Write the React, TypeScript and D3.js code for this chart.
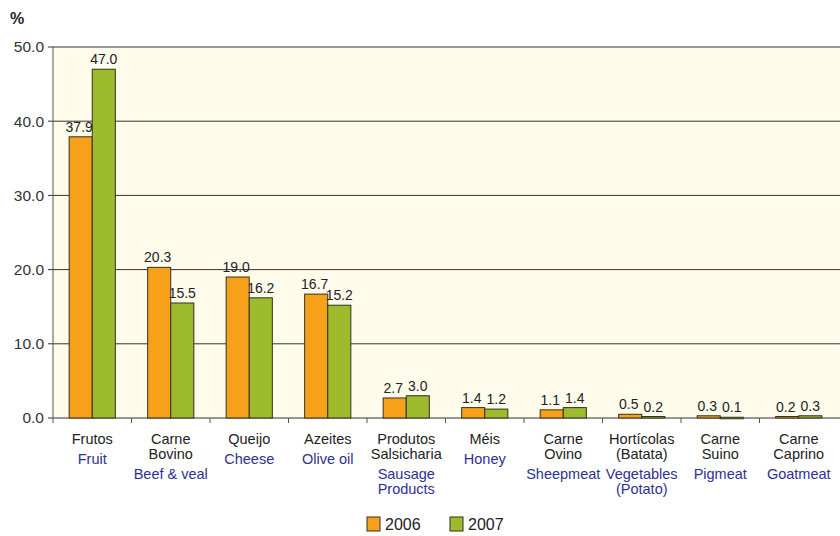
import React from 'react';
import * as d3 from 'd3';

// Portuguese / English category labels, one array entry per line
const catsPT: string[][] = [
  ['Frutos'], ['Carne', 'Bovino'], ['Queijo'], ['Azeites'], ['Produtos', 'Salsicharia'],
  ['Méis'], ['Carne', 'Ovino'], ['Hortícolas', '(Batata)'], ['Carne', 'Suino'], ['Carne', 'Caprino'],
];
const catsEN: string[][] = [
  ['Fruit'], ['Beef & veal'], ['Cheese'], ['Olive oil'], ['Sausage', 'Products'],
  ['Honey'], ['Sheepmeat'], ['Vegetables', '(Potato)'], ['Pigmeat'], ['Goatmeat'],
];
const values2006 = [37.9, 20.3, 19.0, 16.7, 2.7, 1.4, 1.1, 0.5, 0.3, 0.2];
const values2007 = [47.0, 15.5, 16.2, 15.2, 3.0, 1.2, 1.4, 0.2, 0.1, 0.3];
const yTicks = [0, 10, 20, 30, 40, 50];
const seriesNames = ['2006', '2007'];

const W = 840;
const H = 536;
const margin = { top: 47, right: 2, bottom: 118, left: 53 };
const colors = ['#F7A11A', '#9EBA2D'];
const font = "'Liberation Sans', Arial, sans-serif";

const App: React.FC = () => {
  const innerW = W - margin.left - margin.right;
  const innerH = H - margin.top - margin.bottom;
  const idx = catsPT.map((_, i) => String(i));

  const x = d3.scaleBand().domain(idx).range([0, innerW]).paddingInner(0).paddingOuter(0);
  const xs = d3.scaleBand().domain(seriesNames).range([0, x.bandwidth()]).paddingOuter(0.7).paddingInner(0);
  const y = d3.scaleLinear().domain([0, 50]).range([innerH, 0]);

  const series = [values2006, values2007];

  return (
    <svg width={W} height={H} style={{ position: 'absolute', left: 0, top: 0, fontFamily: font }}>
      <rect width={W} height={H} fill="#ffffff" />
      <text x={10} y={24} fontSize={16} fontWeight="bold" fill="#222">%</text>
      <g transform={`translate(${margin.left},${margin.top})`}>
        <rect width={innerW + margin.right} height={innerH} fill="#FFFCEB" />
        {/* gridlines + y ticks */}
        {yTicks.map((t) => (
          <g key={t} transform={`translate(0,${y(t)})`}>
            <line x1={-5} x2={innerW + margin.right} stroke="#333" strokeWidth={1} />
            <text x={-9} dy="0.35em" textAnchor="end" fontSize={15.5} fill="#333">{t.toFixed(1)}</text>
          </g>
        ))}
        <line x1={0} x2={0} y1={0} y2={innerH} stroke="#555" />
        {/* x ticks at category boundaries */}
        {idx.map((d) => (
          <line key={d} x1={x(d)!} x2={x(d)!} y1={innerH} y2={innerH + 5} stroke="#555" />
        ))}
        {/* bars */}
        {idx.map((d, i) => (
          <g key={d} transform={`translate(${x(d)},0)`}>
            {series.map((vals, s) => {
              const bx = xs(seriesNames[s])!;
              const bw = xs.bandwidth();
              const v = vals[i];
              return (
                <g key={s}>
                  <rect
                    x={bx}
                    y={y(v)}
                    width={bw}
                    height={Math.max(1.5, innerH - y(v))}
                    fill={colors[s]}
                    stroke="#333020"
                    strokeWidth={1}
                  />
                  <text x={bx + bw / 2 - (s === 0 ? 1.5 : 0)} y={y(v) - 5} textAnchor="middle" fontSize={14} fill="#222">
                    {v.toFixed(1)}
                  </text>
                </g>
              );
            })}
          </g>
        ))}
        {/* category labels */}
        {idx.map((d, i) => {
          const cx = x(d)! + x.bandwidth() / 2;
          const pt = catsPT[i];
          const en = catsEN[i];
          const enStart = 26 + (pt.length - 1) * 15 + 20;
          return (
            <g key={d} fontSize={14.5}>
              {pt.map((l, k) => (
                <text key={'p' + k} x={cx} y={innerH + 26 + k * 15} textAnchor="middle" fill="#222">{l}</text>
              ))}
              {en.map((l, k) => (
                <text key={'e' + k} x={cx} y={innerH + enStart + k * 15} textAnchor="middle" fill="#2E3192">{l}</text>
              ))}
            </g>
          );
        })}
      </g>
      {/* legend */}
      <g fontSize={16} fill="#222">
        {seriesNames.map((n, s) => (
          <g key={n} transform={`translate(${367 + s * 83},517)`}>
            <rect width={13} height={14} fill={colors[s]} stroke="#333020" />
            <text x={18} y={13}>{n}</text>
          </g>
        ))}
      </g>
    </svg>
  );
};

export default App;
